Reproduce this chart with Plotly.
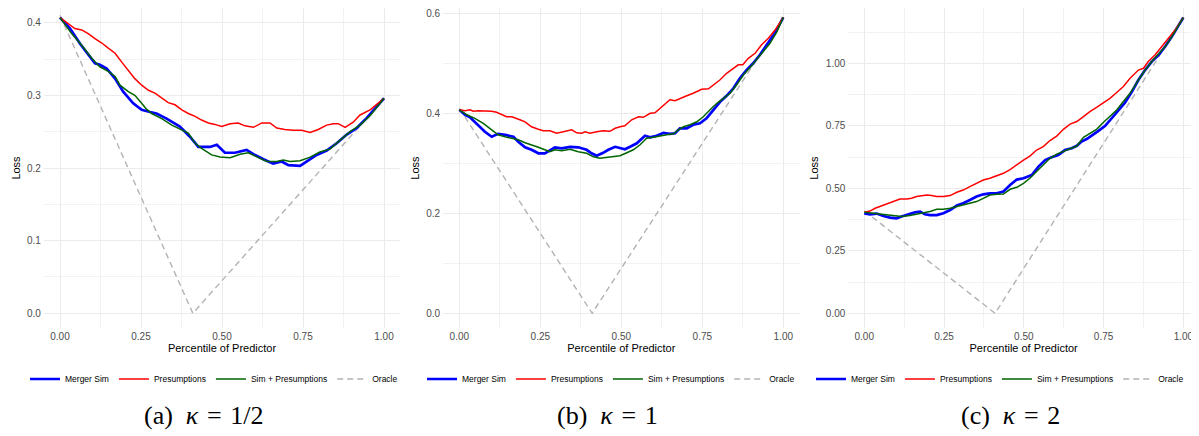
import plotly.graph_objects as go

# ---------------- data ----------------
series_names = ["Merger Sim", "Presumptions", "Sim + Presumptions", "Oracle"]
captions = ["(a)\u2002<i>κ</i>\u2004=\u20041/2", "(b)\u2002<i>κ</i>\u2004=\u20041", "(c)\u2002<i>κ</i>\u2004=\u20042"]
x_ticks = [0.0, 0.25, 0.5, 0.75, 1.0]
x_tick_labels = ["0.00", "0.25", "0.50", "0.75", "1.00"]

# Panel (a)  kappa = 1/2
a_ms_x = [0, 0.031, 0.062, 0.093, 0.108, 0.123, 0.144, 0.170, 0.195, 0.226, 0.252, 0.278, 0.298, 0.329, 0.370,
          0.401, 0.427, 0.463, 0.484, 0.509, 0.540, 0.576, 0.597, 0.628, 0.658, 0.684, 0.705, 0.741, 0.761, 0.792,
          0.823, 0.854, 0.885, 0.916, 0.947, 0.977, 1.0]
a_ms_y = [0.407, 0.392, 0.371, 0.353, 0.344, 0.342, 0.337, 0.323, 0.305, 0.289, 0.280, 0.277, 0.275, 0.268, 0.257,
          0.243, 0.229, 0.229, 0.232, 0.221, 0.221, 0.225, 0.219, 0.212, 0.206, 0.209, 0.204, 0.203, 0.209, 0.218,
          0.224, 0.234, 0.246, 0.255, 0.269, 0.285, 0.296]
a_pr_x = [0, 0.026, 0.046, 0.067, 0.087, 0.108, 0.129, 0.149, 0.170, 0.190, 0.211, 0.231, 0.252, 0.273, 0.293,
          0.314, 0.334, 0.355, 0.376, 0.396, 0.417, 0.437, 0.458, 0.478, 0.499, 0.525, 0.550, 0.571, 0.597, 0.623,
          0.648, 0.669, 0.694, 0.720, 0.746, 0.772, 0.797, 0.823, 0.844, 0.859, 0.880, 0.905, 0.926, 0.957, 1.0]
a_pr_y = [0.407, 0.399, 0.392, 0.390, 0.385, 0.378, 0.372, 0.365, 0.358, 0.346, 0.335, 0.323, 0.314, 0.307, 0.303,
          0.296, 0.290, 0.287, 0.280, 0.275, 0.271, 0.266, 0.262, 0.260, 0.257, 0.261, 0.262, 0.258, 0.256, 0.262,
          0.262, 0.255, 0.253, 0.252, 0.252, 0.249, 0.253, 0.259, 0.261, 0.261, 0.256, 0.263, 0.273, 0.280, 0.296]
a_sp_x = [0, 0.036, 0.067, 0.098, 0.123, 0.149, 0.170, 0.185, 0.211, 0.231, 0.252, 0.267, 0.283, 0.314, 0.345,
          0.376, 0.396, 0.417, 0.437, 0.468, 0.494, 0.525, 0.556, 0.581, 0.607, 0.638, 0.669, 0.689, 0.710, 0.741,
          0.772, 0.802, 0.833, 0.864, 0.895, 0.926, 0.957, 1.0]
a_sp_y = [0.407, 0.385, 0.369, 0.351, 0.339, 0.333, 0.326, 0.314, 0.305, 0.300, 0.289, 0.281, 0.275, 0.268, 0.259,
          0.252, 0.248, 0.234, 0.227, 0.218, 0.215, 0.214, 0.219, 0.221, 0.215, 0.209, 0.209, 0.211, 0.209, 0.210,
          0.215, 0.222, 0.226, 0.238, 0.250, 0.259, 0.272, 0.296]

# Panel (b)  kappa = 1
b_ms_x = [0, 0.018, 0.033, 0.048, 0.064, 0.079, 0.100, 0.120, 0.141, 0.167, 0.182, 0.203, 0.223, 0.244, 0.264,
          0.280, 0.295, 0.316, 0.342, 0.367, 0.393, 0.408, 0.424, 0.444, 0.460, 0.481, 0.496, 0.511, 0.527, 0.548,
          0.573, 0.589, 0.609, 0.630, 0.650, 0.666, 0.681, 0.702, 0.722, 0.743, 0.763, 0.784, 0.805, 0.825, 0.846,
          0.866, 0.887, 0.907, 0.928, 0.949, 0.974, 1.0]
b_ms_y = [0.407, 0.397, 0.392, 0.383, 0.373, 0.363, 0.353, 0.359, 0.357, 0.353, 0.343, 0.332, 0.327, 0.320, 0.320,
          0.327, 0.332, 0.330, 0.333, 0.332, 0.327, 0.320, 0.315, 0.321, 0.327, 0.333, 0.330, 0.328, 0.333, 0.340,
          0.355, 0.352, 0.355, 0.361, 0.359, 0.360, 0.370, 0.370, 0.377, 0.380, 0.390, 0.407, 0.423, 0.435, 0.450,
          0.470, 0.487, 0.500, 0.517, 0.537, 0.560, 0.592]
b_pr_x = [0, 0.018, 0.033, 0.043, 0.059, 0.079, 0.100, 0.115, 0.131, 0.146, 0.162, 0.177, 0.187, 0.203, 0.223,
          0.244, 0.259, 0.280, 0.300, 0.321, 0.347, 0.362, 0.378, 0.388, 0.403, 0.424, 0.444, 0.465, 0.481, 0.496,
          0.511, 0.532, 0.553, 0.568, 0.589, 0.604, 0.625, 0.650, 0.666, 0.687, 0.702, 0.722, 0.748, 0.769, 0.784,
          0.805, 0.825, 0.846, 0.861, 0.875, 0.892, 0.913, 0.933, 0.954, 0.975, 1.0]
b_pr_y = [0.407, 0.405, 0.407, 0.404, 0.405, 0.405, 0.404, 0.402, 0.398, 0.393, 0.393, 0.390, 0.387, 0.383, 0.373,
          0.368, 0.365, 0.365, 0.360, 0.363, 0.367, 0.361, 0.360, 0.363, 0.360, 0.363, 0.365, 0.364, 0.370, 0.373,
          0.375, 0.387, 0.393, 0.392, 0.400, 0.401, 0.413, 0.427, 0.425, 0.430, 0.435, 0.440, 0.448, 0.449, 0.457,
          0.467, 0.480, 0.490, 0.497, 0.497, 0.510, 0.520, 0.537, 0.550, 0.567, 0.592]
b_sp_x = [0, 0.023, 0.048, 0.074, 0.100, 0.120, 0.141, 0.162, 0.182, 0.203, 0.223, 0.244, 0.264, 0.280, 0.295,
          0.316, 0.342, 0.367, 0.393, 0.414, 0.434, 0.455, 0.475, 0.496, 0.517, 0.537, 0.558, 0.578, 0.599, 0.620,
          0.640, 0.661, 0.676, 0.692, 0.712, 0.733, 0.753, 0.774, 0.795, 0.815, 0.836, 0.856, 0.877, 0.898, 0.918,
          0.939, 0.959, 0.980, 1.0]
b_sp_y = [0.407, 0.397, 0.390, 0.380, 0.367, 0.357, 0.353, 0.350, 0.347, 0.341, 0.337, 0.332, 0.327, 0.323, 0.327,
          0.325, 0.328, 0.323, 0.320, 0.313, 0.310, 0.312, 0.313, 0.315, 0.321, 0.327, 0.337, 0.350, 0.352, 0.355,
          0.357, 0.359, 0.367, 0.373, 0.377, 0.383, 0.393, 0.407, 0.420, 0.430, 0.440, 0.457, 0.477, 0.492, 0.507,
          0.523, 0.540, 0.563, 0.592]

# Panel (c)  kappa = 2
c_ms_x = [0, 0.018, 0.039, 0.060, 0.081, 0.101, 0.117, 0.138, 0.159, 0.175, 0.190, 0.206, 0.227, 0.248, 0.269,
          0.290, 0.310, 0.331, 0.352, 0.373, 0.394, 0.415, 0.436, 0.457, 0.478, 0.499, 0.525, 0.546, 0.567, 0.587,
          0.608, 0.629, 0.650, 0.666, 0.681, 0.697, 0.713, 0.734, 0.755, 0.775, 0.796, 0.817, 0.838, 0.859, 0.880,
          0.901, 0.922, 0.943, 0.964, 0.984, 1.0]
c_ms_y = [0.400, 0.396, 0.399, 0.389, 0.383, 0.380, 0.387, 0.396, 0.404, 0.407, 0.396, 0.393, 0.393, 0.400, 0.413,
          0.431, 0.440, 0.453, 0.467, 0.476, 0.480, 0.480, 0.487, 0.513, 0.535, 0.540, 0.553, 0.587, 0.613, 0.624,
          0.633, 0.653, 0.660, 0.670, 0.687, 0.697, 0.710, 0.730, 0.750, 0.780, 0.810, 0.842, 0.885, 0.933, 0.973,
          1.007, 1.033, 1.067, 1.107, 1.147, 1.183]
c_pr_x = [0, 0.018, 0.034, 0.049, 0.065, 0.081, 0.096, 0.112, 0.133, 0.148, 0.164, 0.180, 0.196, 0.211, 0.227,
          0.248, 0.269, 0.290, 0.310, 0.331, 0.352, 0.373, 0.394, 0.415, 0.436, 0.457, 0.478, 0.499, 0.519, 0.540,
          0.561, 0.582, 0.603, 0.624, 0.645, 0.666, 0.687, 0.707, 0.728, 0.749, 0.770, 0.791, 0.812, 0.833, 0.859,
          0.875, 0.890, 0.911, 0.932, 0.953, 0.974, 1.0]
c_pr_y = [0.404, 0.409, 0.420, 0.427, 0.436, 0.444, 0.449, 0.457, 0.457, 0.460, 0.467, 0.469, 0.473, 0.471, 0.467,
          0.467, 0.471, 0.484, 0.493, 0.507, 0.520, 0.533, 0.540, 0.550, 0.560, 0.575, 0.595, 0.613, 0.629, 0.653,
          0.667, 0.691, 0.709, 0.736, 0.757, 0.767, 0.787, 0.807, 0.824, 0.843, 0.860, 0.883, 0.907, 0.940, 0.973,
          0.980, 1.007, 1.033, 1.067, 1.100, 1.133, 1.183]
c_sp_x = [0, 0.028, 0.060, 0.091, 0.117, 0.143, 0.164, 0.185, 0.206, 0.227, 0.248, 0.269, 0.290, 0.310, 0.331,
          0.352, 0.373, 0.394, 0.415, 0.436, 0.457, 0.478, 0.499, 0.519, 0.540, 0.561, 0.582, 0.603, 0.624, 0.645,
          0.666, 0.687, 0.707, 0.728, 0.749, 0.770, 0.791, 0.812, 0.833, 0.859, 0.880, 0.901, 0.922, 0.943,
          0.964, 0.984, 1.0]
c_sp_y = [0.404, 0.400, 0.396, 0.389, 0.387, 0.391, 0.396, 0.404, 0.407, 0.416, 0.416, 0.420, 0.427, 0.433, 0.440,
          0.447, 0.460, 0.473, 0.476, 0.477, 0.496, 0.504, 0.520, 0.540, 0.567, 0.593, 0.620, 0.637, 0.647, 0.656,
          0.669, 0.704, 0.720, 0.736, 0.763, 0.787, 0.813, 0.847, 0.880, 0.933, 0.973, 1.007, 1.036, 1.067,
          1.107, 1.147, 1.183]

# Oracle (V shape)
oracle_x = [0.0, 0.41, 1.0]
a_or_y = [0.41, 0.0, 0.295]
b_or_y = [0.41, 0.0, 0.59]
c_or_y = [0.41, 0.0, 1.18]

# ---------------- layout helpers ----------------
# The page body keeps an 8px margin, so the figure is sized to fill the 1199x436 window from (8, 8).
OFF = 8
W, H = 1199 - OFF, 436 - OFF


def fx(px):  # window pixel -> paper x
    return (px - OFF) / W


def fy(py):  # window pixel -> paper y
    return 1 - (py - OFF) / H


panels = [
    dict(ms=(a_ms_x, a_ms_y), pr=(a_pr_x, a_pr_y), sp=(a_sp_x, a_sp_y), orc=a_or_y,
         px=(43.8, 400.2), xr=[-0.05, 1.05], yr=[-0.0202, 0.4202], ydt=0.1, yfmt=".1f",
         leg_c=214, cap_c=204),
    dict(ms=(b_ms_x, b_ms_y), pr=(b_pr_x, b_pr_y), sp=(b_sp_x, b_sp_y), orc=b_or_y,
         px=(443.1, 799.5), xr=[-0.05, 1.05], yr=[-0.0294, 0.6106], ydt=0.2, yfmt=".1f",
         leg_c=611, cap_c=607),
    dict(ms=(c_ms_x, c_ms_y), pr=(c_pr_x, c_pr_y), sp=(c_sp_x, c_sp_y), orc=c_or_y,
         px=(848.3, 1199.0), xr=[-0.05, 1.049], yr=[-0.0588, 1.2212], ydt=0.25, yfmt=".2f",
         leg_c=1000, cap_c=1010),
]
y_dom = [fy(328), 1.0]

colors = {"ms": "#0000FF", "pr": "#FF0000", "sp": "#006400", "orc": "#B3B3B3"}
widths = {"ms": 2.7, "pr": 1.5, "sp": 1.5, "orc": 1.4}

fig = go.Figure()
layout = dict(width=W, height=H, autosize=False, margin=dict(l=0, r=0, t=0, b=0, autoexpand=False),
              paper_bgcolor="white", plot_bgcolor="white", showlegend=True,
              font=dict(family="Liberation Sans, Arial, sans-serif", color="#000000"))
annotations = []

for i, p in enumerate(panels):
    sfx = "" if i == 0 else str(i + 1)
    xa, ya, lg = "x" + sfx, "y" + sfx, "legend" + sfx
    # oracle drawn first (underneath)
    fig.add_trace(go.Scatter(x=oracle_x, y=p["orc"], mode="lines", name=series_names[3],
                             line=dict(color=colors["orc"], width=widths["orc"], dash="6px,4px"),
                             xaxis=xa, yaxis=ya, legend=lg, legendrank=4, hoverinfo="skip"))
    for key, nm, rk in (("ms", series_names[0], 1), ("pr", series_names[1], 2), ("sp", series_names[2], 3)):
        xs, ys = p[key]
        fig.add_trace(go.Scatter(x=xs, y=ys, mode="lines", name=nm,
                                 line=dict(color=colors[key], width=widths[key]),
                                 xaxis=xa, yaxis=ya, legend=lg, legendrank=rk))
    x0, x1 = p["px"]
    layout["xaxis" + sfx] = dict(
        domain=[max(0.0, fx(x0)), min(1.0, fx(x1))], range=p["xr"], anchor=ya, automargin=False,
        tickvals=x_ticks, ticktext=x_tick_labels, ticks="", showline=False, zeroline=False,
        showgrid=True, gridcolor="#EBEBEB", gridwidth=1.1,
        minor=dict(dtick=0.125, tick0=0, showgrid=True, gridcolor="#F2F2F2", gridwidth=0.8),
        tickfont=dict(size=10, color="#4D4D4D"), ticklabelstandoff=1, ticklabeloverflow="allow",
        title=dict(text="Percentile of Predictor", font=dict(size=11, color="#000000"), standoff=2),
        fixedrange=True)
    layout["yaxis" + sfx] = dict(
        domain=y_dom, range=p["yr"], anchor=xa, automargin=False,
        dtick=p["ydt"], tick0=0, tickformat=p["yfmt"], ticks="", showline=False, zeroline=False,
        showgrid=True, gridcolor="#EBEBEB", gridwidth=1.1,
        minor=dict(dtick=p["ydt"] / 2, tick0=0, showgrid=True, gridcolor="#F2F2F2", gridwidth=0.8),
        tickfont=dict(size=10, color="#4D4D4D"), ticklabelstandoff=2, ticklabeloverflow="allow",
        title=dict(text="Loss", font=dict(size=11, color="#000000"), standoff=4),
        fixedrange=True)
    layout[lg] = dict(orientation="h", x=fx(p["leg_c"]), xanchor="center",
                      y=fy(379), yanchor="middle", font=dict(size=8.5, color="#000000"),
                      bgcolor="rgba(0,0,0,0)", itemwidth=30, traceorder="normal",
                      itemclick=False, itemdoubleclick=False)
    annotations.append(dict(text=captions[i], x=fx(p["cap_c"]), y=fy(415), xref="paper", yref="paper",
                            xanchor="center", yanchor="middle", showarrow=False,
                            font=dict(family="Liberation Serif, Times New Roman, serif", size=26,
                                      color="#000000")))

layout["annotations"] = annotations
fig.update_layout(**layout)
fig.write_html("out.html")
